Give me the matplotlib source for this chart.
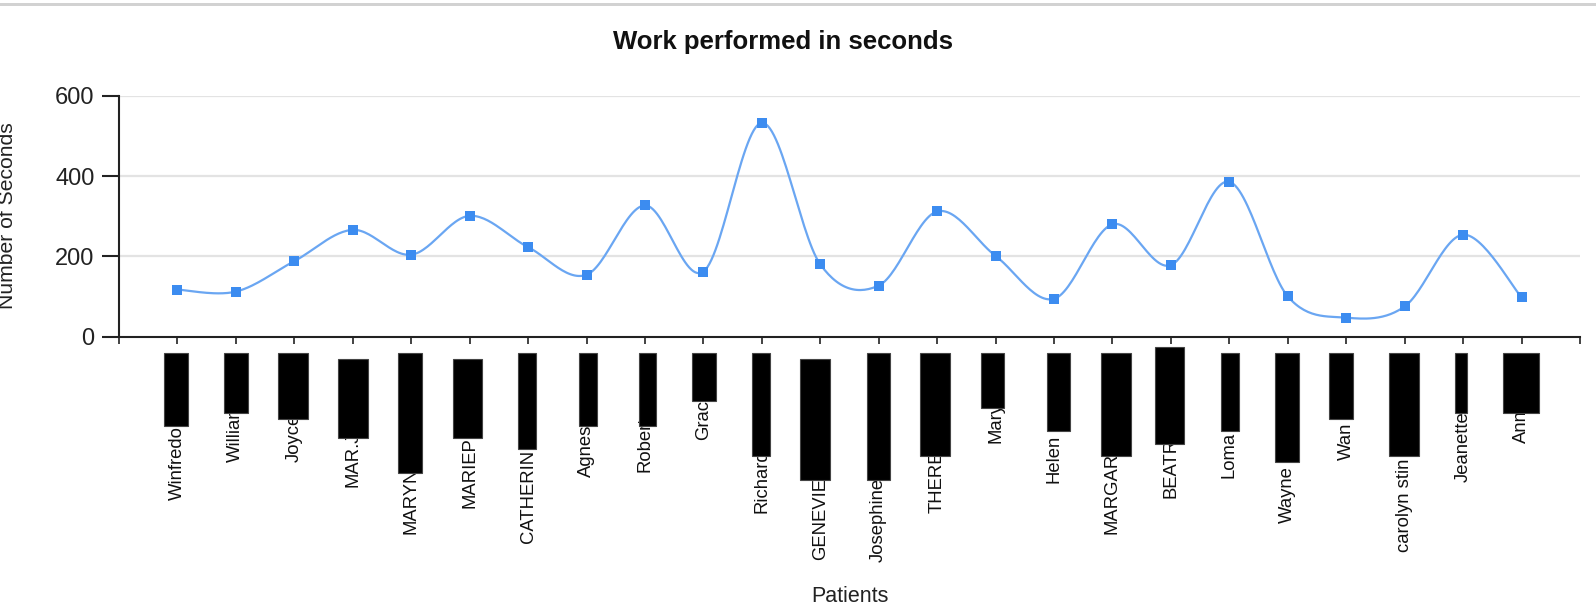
import numpy as np
import matplotlib
matplotlib.use("Agg")
import matplotlib.pyplot as plt
from matplotlib.patches import Rectangle
import matplotlib.transforms as mtrans

plt.rcParams['font.family'] = ['Liberation Sans', 'DejaVu Sans']

# ---- data ----
patients = ["Winfredo", "William", "Joyce", "MAR.J", "MARYN", "MARIEP",
            "CATHERIN", "Agnes", "Robert", "Grace", "Richard", "GENEVIE",
            "Josephine", "THERE", "Mary", "Helen", "MARGAR", "BEATR",
            "Loma", "Wayne", "Wan", "carolyn stin", "Jeanette", "Ann"]
seconds = [117, 112, 188, 266, 204, 301, 223, 154, 327, 162, 533, 180,
           127, 312, 201, 94, 280, 178, 386, 100, 47, 75, 254, 98]
y_ticks = [0, 200, 400, 600]

# ---- layout constants (pixels) ----
W, H = 1596, 610
ax_left, ax_right, ax_top, ax_bottom = 119, 1580, 96, 336.5
# redaction boxes drawn over the name labels (offsets from tick, pixel rows)
box_dx_left = [-13.1, -11.9, -16, -14.5, -12.9, -16.9, -9.8, -7.5, -6.3, -11.1,
               -9.5, -20, -12, -16.9, -14.9, -7.3, -11.8, -16.2, -8.7, -13.1,
               -17.5, -16, -8.4, -18.9]
box_dx_right = [10.9, 12.4, 14, 15.5, 11.1, 12.7, 7.9, 10.2, 11.3, 12.9,
                8.5, 10, 11.6, 13.1, 8.7, 16.3, 18.2, 13.4, 9.3, 10.9,
                6.5, 14, 3.6, 17.1]
box_top = [353.3, 353.3, 353, 359.3, 353.3, 359.3, 353.3, 353, 353, 353,
           353, 359.3, 353, 353, 353, 353, 353, 347.3, 353, 353,
           353, 353, 353, 353]
box_bot = [425.7, 413.3, 419, 437.7, 473.3, 437.7, 449, 425.7, 425.7, 401,
           455.7, 479.7, 479.7, 455.7, 407.7, 431, 455.7, 443.7, 431, 461.7,
           419.3, 455.7, 413.3, 413.3]
label_bottom = [500, 462, 462, 486.7, 534, 508, 543, 476.7, 471.7, 440,
                513.3, 560, 561.7, 512.7, 442.7, 483.3, 534, 498.3, 478.3, 523.3,
                460, 551.7, 481.7, 443.3]

fig = plt.figure(figsize=(W / 100, H / 100), dpi=100)
ax = fig.add_axes([ax_left / W, 1 - ax_bottom / H,
                   (ax_right - ax_left) / W, (ax_bottom - ax_top) / H])

n = len(seconds)
xs = np.arange(1, n + 1, dtype=float)
ys = np.array(seconds, dtype=float)

# cardinal (Catmull-Rom) smooth curve through the points
pts = np.column_stack([xs, ys])
curve = []
t = np.linspace(0, 1, 30)[:, None]
for i in range(n - 1):
    p0 = pts[i - 1] if i > 0 else pts[i]
    p1 = pts[i]
    p2 = pts[i + 1]
    p3 = pts[i + 2] if i + 2 < n else pts[i + 1]
    c1 = p1 + (p2 - p0) / 6
    c2 = p2 - (p3 - p1) / 6
    seg = ((1 - t) ** 3) * p1 + 3 * ((1 - t) ** 2) * t * c1 + 3 * (1 - t) * t ** 2 * c2 + t ** 3 * p2
    curve.append(seg if i == 0 else seg[1:])
curve = np.vstack(curve)

ax.plot(curve[:, 0], curve[:, 1], color='#6aa6f2', lw=1.6, zorder=3,
        solid_capstyle='round')
ax.plot(xs, ys, linestyle='none', marker='s', markersize=7,
        color='#3c8cf0', markeredgewidth=0, zorder=4)

ax.set_xlim(0, n + 1)
ax.set_ylim(0, 600)

# grid
for v in y_ticks[1:]:
    ax.axhline(v, color='#e3e3e3', lw=1.6, zorder=1)

for s in ['top', 'right']:
    ax.spines[s].set_visible(False)
for s in ['left', 'bottom']:
    ax.spines[s].set_color('#222222')
    ax.spines[s].set_linewidth(1.5)

ax.set_yticks(y_ticks)
ax.set_yticklabels([str(v) for v in y_ticks])
ax.tick_params(axis='y', length=12.5, width=1.5, color='#222222', pad=5,
               labelsize=17, labelcolor='#222222')
ax.set_xticks(np.arange(0, n + 2))
ax.set_xticklabels([])
ax.tick_params(axis='x', length=5, width=1.2, color='#222222')

# name labels and redaction boxes
step = (ax_right - ax_left) / (n + 1)
trans = mtrans.blended_transform_factory(ax.transData, fig.transFigure)
for i, name in enumerate(patients):
    xi = xs[i]
    ax.text(xi, 1 - label_bottom[i] / H, name, transform=trans, rotation=90,
            ha='center', va='bottom', fontsize=13.3, color='#111111',
            clip_on=False, zorder=5)
    x0 = xi + box_dx_left[i] / step
    wdt = (box_dx_right[i] - box_dx_left[i]) / step
    y0 = 1 - box_bot[i] / H
    hgt = (box_bot[i] - box_top[i]) / H
    ax.add_patch(Rectangle((x0, y0), wdt, hgt, transform=trans,
                           facecolor='black', edgecolor='#444444', lw=0.8,
                           clip_on=False, zorder=6))

# titles
fig.text(783 / W, 1 - 42 / H, 'Work performed in seconds', ha='center',
         va='center', fontsize=18.5, fontweight='bold', color='#111111')
fig.text((ax_left + ax_right) / 2 / W, 1 - 596 / H, 'Patients', ha='center',
         va='center', fontsize=15.5, color='#222222')
fig.text(17.5 / W, 1 - 216 / H, 'Number of Seconds', rotation=90, ha='right',
         va='center', fontsize=15.2, color='#222222')

# top border of the page
fig.add_artist(Rectangle((0, 1 - 6 / H), 1, 3 / H, transform=fig.transFigure,
                         facecolor='#d2d2d2', edgecolor='none'))

fig.savefig('out.png', dpi=100)
